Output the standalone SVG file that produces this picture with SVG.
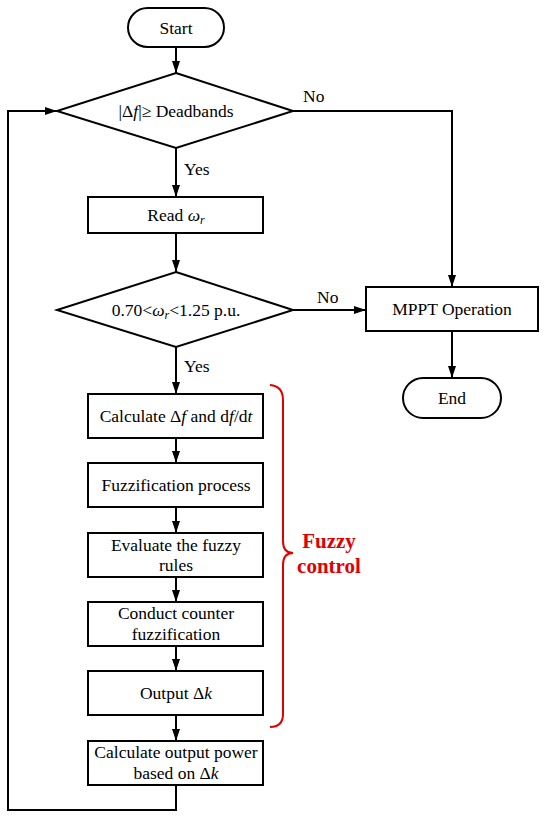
<svg xmlns="http://www.w3.org/2000/svg" width="550" height="817" viewBox="0 0 550 817">
<style>
.box{fill:#fff;stroke:#000;stroke-width:2}
.ln{fill:none;stroke:#000;stroke-width:2}
.t{font-family:"Liberation Serif","Times New Roman",serif;font-size:17.5px;fill:#000;text-anchor:middle}
.lbl{font-family:"Liberation Serif","Times New Roman",serif;font-size:17.5px;fill:#000}
.i{font-style:italic}
.fz{font-family:"Liberation Serif","Times New Roman",serif;font-size:21px;font-weight:bold;fill:#e00000;text-anchor:middle}
</style>
<defs>
<marker id="ah" viewBox="0 0 12 8" refX="12" refY="4" markerWidth="12" markerHeight="8" orient="auto" markerUnits="userSpaceOnUse">
<path d="M0,0 L12,4 L0,8 z" fill="#000"/>
</marker>
</defs>
<rect width="550" height="817" fill="#fff"/>
<g id="connectors">
<line class="ln" x1="176" y1="47" x2="176" y2="73" marker-end="url(#ah)"/>
<line class="ln" x1="176" y1="148" x2="176" y2="197" marker-end="url(#ah)"/>
<line class="ln" x1="176" y1="233" x2="176" y2="272" marker-end="url(#ah)"/>
<line class="ln" x1="176" y1="347" x2="176" y2="394" marker-end="url(#ah)"/>
<polyline class="ln" points="293,111 452,111 452,287" marker-end="url(#ah)"/>
<line class="ln" x1="293" y1="310" x2="366" y2="310" marker-end="url(#ah)"/>
<line class="ln" x1="452" y1="331" x2="452" y2="378" marker-end="url(#ah)"/>
<line class="ln" x1="176" y1="438" x2="176" y2="463" marker-end="url(#ah)"/>
<line class="ln" x1="176" y1="507" x2="176" y2="533" marker-end="url(#ah)"/>
<line class="ln" x1="176" y1="577" x2="176" y2="602" marker-end="url(#ah)"/>
<line class="ln" x1="176" y1="646" x2="176" y2="671" marker-end="url(#ah)"/>
<line class="ln" x1="176" y1="715" x2="176" y2="741" marker-end="url(#ah)"/>
<polyline class="ln" points="176,785 176,810 8,810 8,111 57,111" marker-end="url(#ah)"/>
<text class="lbl" x="303" y="102">No</text>
<text class="lbl" x="184" y="175">Yes</text>
<text class="lbl" x="317" y="303">No</text>
<text class="lbl" x="184" y="372">Yes</text>
</g>
<g id="start">
<rect class="box" x="128" y="8" width="96" height="39" rx="19.5"/>
<text class="t" x="176" y="34">Start</text>
</g>
<g id="deadband">
<polygon class="box" points="176,73 293,111 176,148 57,111"/>
<text class="t" x="176" y="117">|Δ<tspan class="i">f</tspan>|≥ Deadbands</text>
</g>
<g id="read">
<rect class="box" x="88" y="197" width="175" height="36"/>
<text class="t" x="176" y="221">Read <tspan class="i">ω</tspan><tspan class="i" font-size="12" dy="3">r</tspan></text>
</g>
<g id="speed">
<polygon class="box" points="176,272 293,310 176,347 57,310"/>
<text class="t" x="176" y="316">0.70&lt;<tspan class="i">ω</tspan><tspan class="i" font-size="12" dy="3">r</tspan><tspan dy="-3">&lt;1.25 p.u.</tspan></text>
</g>
<g id="mppt">
<rect class="box" x="366" y="287" width="172" height="44"/>
<text class="t" x="452" y="315">MPPT Operation</text>
</g>
<g id="end">
<rect class="box" x="403" y="378" width="98" height="40" rx="20"/>
<text class="t" x="452" y="404">End</text>
</g>
<g id="calc">
<rect class="box" x="88" y="394" width="175" height="44"/>
<text class="t" x="176" y="422">Calculate Δ<tspan class="i">f</tspan> and d<tspan class="i">f</tspan>/d<tspan class="i">t</tspan></text>
</g>
<g id="fuzzification">
<rect class="box" x="88" y="463" width="175" height="44"/>
<text class="t" x="176" y="491">Fuzzification process</text>
</g>
<g id="evaluate">
<rect class="box" x="88" y="533" width="175" height="44"/>
<text class="t" x="176" y="551">Evaluate the fuzzy</text>
<text class="t" x="176" y="571">rules</text>
</g>
<g id="conduct">
<rect class="box" x="88" y="602" width="175" height="44"/>
<text class="t" x="176" y="619">Conduct counter</text>
<text class="t" x="176" y="640">fuzzification</text>
</g>
<g id="output">
<rect class="box" x="88" y="671" width="175" height="44"/>
<text class="t" x="176" y="699">Output Δ<tspan class="i">k</tspan></text>
</g>
<g id="power">
<rect class="box" x="88" y="741" width="175" height="44"/>
<text class="t" x="176" y="758">Calculate output power</text>
<text class="t" x="176" y="779">based on  Δ<tspan class="i">k</tspan></text>
</g>
<g id="fuzzy-control">
<path d="M270,385 Q283,386 283,400 L283,541 Q283,553 293,553 Q283,553 283,565 L283,714 Q283,727 270,727" fill="none" stroke="#e00000" stroke-width="2"/>
<text class="fz" x="329" y="548">Fuzzy</text>
<text class="fz" x="329" y="573">control</text>
</g>
</svg>
